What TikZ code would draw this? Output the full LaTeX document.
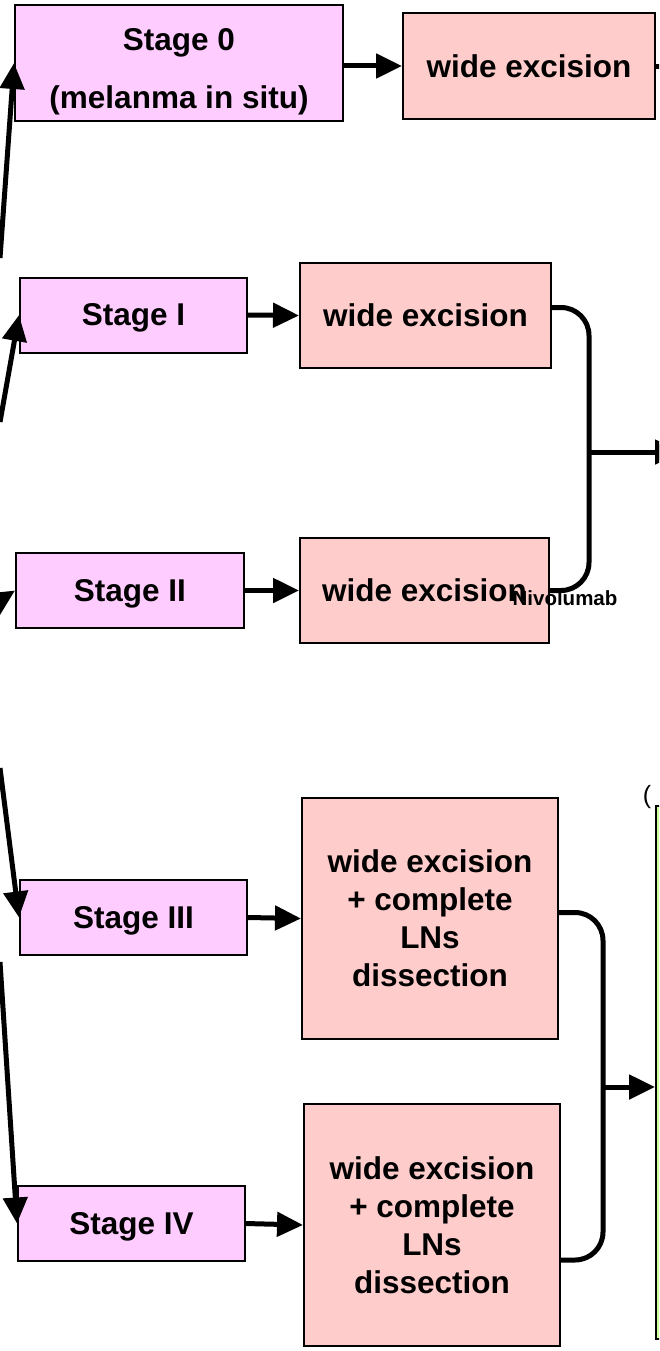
\documentclass[tikz,border=0pt]{standalone}
\usepackage{fontspec}
\setmainfont{Liberation Sans}
\usetikzlibrary{arrows.meta,calc}
\definecolor{stagefill}{HTML}{FFCCFF}
\definecolor{excfill}{HTML}{FFCCCC}
\definecolor{therfill}{HTML}{CCFF99}
\begin{document}
\begin{tikzpicture}[x=1pt,y=-1pt,
  boxtext/.style={inner sep=0pt, align=center,
    font=\fontsize{31.5}{38}\selectfont\bfseries},
  basebox/.style={boxtext, draw=black, line width=2pt},
  oneline/.style={text depth=0pt},
  stagebox/.style={basebox, fill=stagefill},
  excbox/.style={basebox, fill=excfill},
  conn/.style={line width=5pt, black},
  arr/.style={conn, -{Triangle[length=26pt,width=24pt]}},
]
\useasboundingbox (0,0) rectangle (659,1351);
\clip (0,0) rectangle (659,1351);

% stage boxes
\node[stagebox, minimum width=328pt, minimum height=116pt] (s0) at (179,63) {};
\node[boxtext] (s0text) at (179,72) {Stage 0\\[20pt](melanma in situ)};
\node[stagebox, oneline, minimum width=227pt, minimum height=75pt] (s1) at (133.5,315) {Stage I};
\node[stagebox, oneline, minimum width=228pt, minimum height=75pt] (s2) at (130,590.5) {Stage II};
\node[stagebox, oneline, minimum width=227pt, minimum height=75pt] (s3) at (133.5,917.5) {Stage III};
\node[stagebox, oneline, minimum width=227pt, minimum height=75pt] (s4) at (131.5,1223.5) {Stage IV};

% treatment boxes
\node[excbox, oneline, minimum width=252pt, minimum height=106pt] (e0) at (529,66) {wide excision};
\node[excbox, oneline, minimum width=251pt, minimum height=105pt] (e1) at (425.5,315.5) {wide excision};
\node[excbox, oneline, minimum width=249pt, minimum height=105pt] (e2) at (424.5,590.5) {wide excision};
\node[excbox, minimum width=256pt, minimum height=241pt] (e3) at (430,918.5) {wide excision\\+ complete\\LNs\\dissection};
\node[excbox, minimum width=256pt, minimum height=242pt] (e4) at (432,1225) {wide excision\\+ complete\\LNs\\dissection};

% adjuvant therapy box
\node[draw=black, line width=2pt, fill=therfill, minimum width=100pt, minimum height=533pt,
  anchor=north west, inner sep=0pt] (ther) at (655,805) {};
\node[font=\fontsize{25}{28}\selectfont, inner sep=0pt] (paren) at (647,797) {(};

\node[font=\fontsize{20.5}{24}\selectfont\bfseries, inner sep=0pt] (nivo) at (565,598) {Nivolumab};

% incoming arrows from the left
\coordinate (in0) at (0,258);
\coordinate (in1) at (0,422);
\coordinate (in2) at (0,600);
\coordinate (in3) at (0,768);
\coordinate (in4) at (0,962);
\draw[arr] (in0) -- (s0.west);
\draw[arr] (in1) -- (s1.west);
\draw[arr] (in2) -- (s2.west);
\draw[arr] (in3) -- (s3.west);
\draw[arr] (in4) -- (s4.west);

% stage to treatment
\draw[arr] (s0.east |- e0.west) -- (e0.west);
\draw[arr] (s1.east) -- (e1.west);
\draw[arr] (s2.east) -- (e2.west);
\draw[arr] (s3.east) -- (e3.west);
\draw[arr] (s4.east) -- (e4.west);

% onward from stage 0 treatment
\coordinate (out0) at (700,67);
\draw[conn] (e0.east |- out0) -- (out0);

% bracket joining stages I and II
\coordinate (j1) at (589,452);
\coordinate (out1) at (681,452);
\draw[conn, rounded corners=28pt] ($(e1.east)+(0,-8)$) -| (j1) |- ($(e2.east)+(0,0)$);
\draw[arr] (j1) -- (out1);

% bracket joining stages III and IV
\coordinate (j2) at (603,1087);
\draw[conn, rounded corners=28pt] ($(e3.east)+(0,-6)$) -| (j2) |- ($(e4.east)+(0,35)$);
\draw[arr] (j2) -- (ther.west |- j2);
\end{tikzpicture}
\end{document}
